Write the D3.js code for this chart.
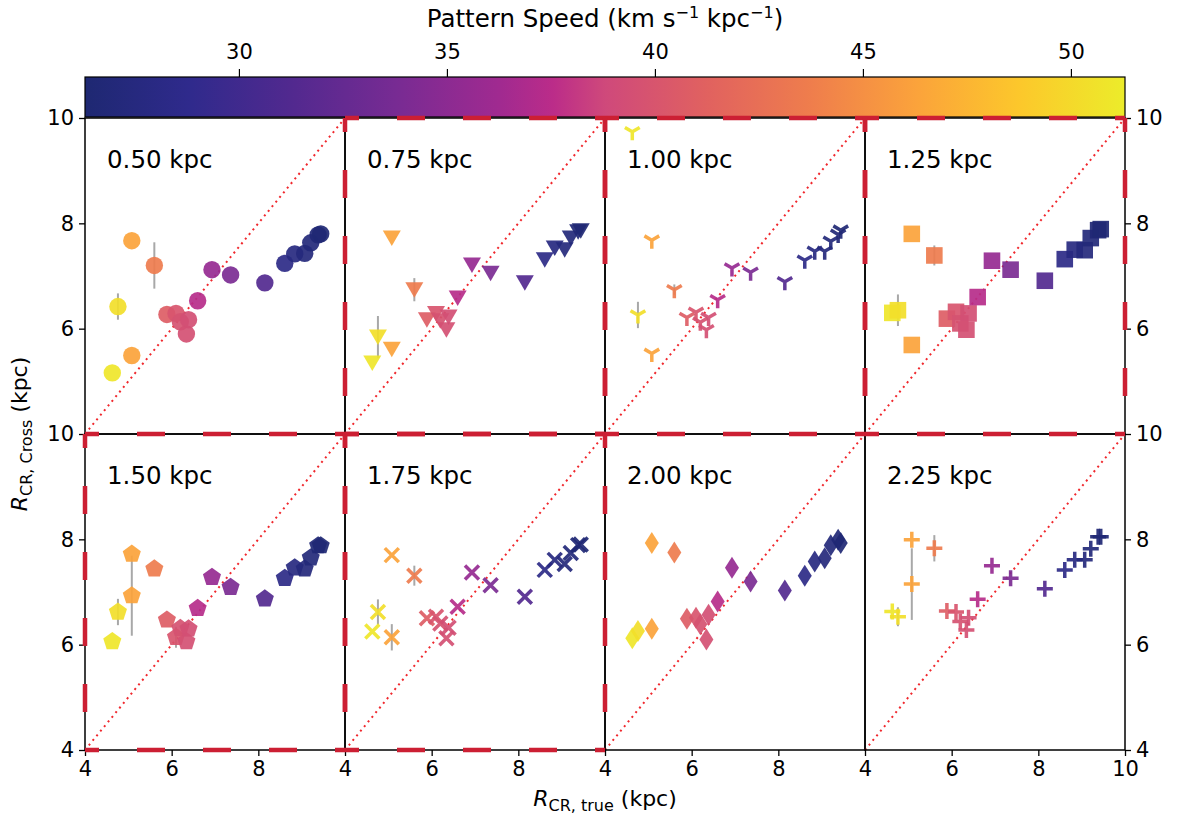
<!DOCTYPE html>
<html>
<head>
<meta charset="utf-8">
<script src="https://cdn.jsdelivr.net/npm/d3@7"></script>
<style>
    body { margin: 0; background: #fff; }
    svg { font-family: "DejaVu Sans", sans-serif; }
</style>
</head>
<body>
<div id="chart"></div>
<script>
// Crossing-radius comparison, one panel per smoothing scale

const panelLabels = ['0.50 kpc', '0.75 kpc', '1.00 kpc', '1.25 kpc', '1.50 kpc', '1.75 kpc', '2.00 kpc', '2.25 kpc'];
const markerTypes = ['circle', 'triDown', 'tri', 'square', 'pentagon', 'x', 'thinDiamond', 'plus'];
const highlighted = [false, true, true, true, true, true, false, false];

// true corotation radius (kpc) and pattern speed (km/s/kpc) of each model
const rTrue = [4.63, 4.76, 5.08, 5.08, 5.60, 5.89, 6.10, 6.20, 6.34, 6.39, 6.60, 6.93, 7.36, 8.15, 8.61, 8.84, 9.07, 9.21, 9.38, 9.44];
const patternSpeed = [50.9, 50.3, 46.3, 46.3, 43.6, 40.8, 40.0, 39.7, 39.5, 39.4, 37.3, 35.6, 34.0, 31.3, 28.3, 27.6, 27.3, 27.0, 26.7, 26.5];

// recovered radius per panel
const rCross050 = [5.16, 6.42, 5.49, 7.67, 7.20, 6.27, 6.29, 6.13, 5.90, 6.17, 6.53, 7.12, 7.02, 6.87, 7.24, 7.42, 7.43, 7.63, 7.78, 7.80];
const rCross075 = [5.35, 5.84, 5.61, 7.72, 6.74, 6.17, 6.29, 6.15, 5.98, 6.22, 6.58, 7.21, 7.05, 6.87, 7.31, 7.53, 7.50, 7.72, 7.84, 7.86];
const rCross100 = [9.74, 6.26, 5.53, 7.68, 6.74, 6.21, 6.31, 6.12, 5.98, 6.21, 6.55, 7.15, 7.07, 6.89, 7.30, 7.47, 7.47, 7.66, 7.79, 7.87];
const rCross125 = [6.30, 6.35, 5.69, 7.80, 7.39, 6.19, 6.32, 6.10, 5.98, 6.29, 6.60, 7.29, 7.12, 6.91, 7.32, 7.50, 7.49, 7.72, 7.87, 7.89];
const rCross150 = [6.06, 6.62, 6.93, 7.72, 7.44, 6.47, 6.14, 6.31, 6.06, 6.30, 6.69, 7.28, 7.09, 6.87, 7.26, 7.46, 7.44, 7.65, 7.88, 7.88];
const rCross175 = [6.25, 6.62, 6.14, 7.70, 7.31, 6.50, 6.53, 6.40, 6.12, 6.32, 6.72, 7.37, 7.13, 6.91, 7.42, 7.61, 7.53, 7.74, 7.89, 7.90];
const rCross200 = [6.12, 6.26, 6.30, 7.93, 7.75, 6.49, 6.51, 6.39, 6.10, 6.57, 6.82, 7.46, 7.20, 7.03, 7.31, 7.58, 7.64, 7.89, 7.99, 7.93];
const rCross225 = [6.63, 6.53, 7.15, 7.99, 7.83, 6.64, 6.62, 6.44, 6.28, 6.51, 6.86, 7.50, 7.26, 7.06, 7.42, 7.61, 7.61, 7.82, 8.05, 8.05];
const rCrossPanels = [rCross050, rCross075, rCross100, rCross125, rCross150, rCross175, rCross200, rCross225];

// [model index, half-length] of the visible error bars
const errBars = [
    [[1, 0.25], [4, 0.44]],
    [[1, 0.40], [4, 0.22]],
    [[1, 0.25], [4, 0.10]],
    [[1, 0.30], [4, 0.19]],
    [[1, 0.25], [2, 0.76], [6, 0.20]],
    [[1, 0.24], [2, 0.25], [4, 0.19]],
    [],
    [[1, 0.18], [2, 0.68], [4, 0.25]]
];

const axisTicks = [4, 6, 8, 10];
const cbDomain = [26.3, 51.3];
const cbTicks = [30, 35, 40, 45, 50];
// plasma-like colormap as it appears in the figure
const cmapStops = [0, 0.1, 0.2, 0.3, 0.4, 0.45, 0.5, 0.6, 0.7, 0.8, 0.9, 1];
const cmapColors = ['#1e2872', '#2f2a8c', '#52298f', '#782b93', '#a12a90', '#bb2c89', '#cf497b',
    '#e1625f', '#ef7e4c', '#fba33b', '#fcc82b', '#ecec2a'];

const W = 1183, H = 821;
const plotLeft = 85, plotTop = 118, pw = 260, ph = 316;

const svg = d3.select('#chart').append('svg')
    .attr('width', W).attr('height', H);

const cmap = d3.scaleLinear().domain(cmapStops).range(cmapColors).interpolate(d3.interpolateRgb);
const color = d3.scaleLinear().domain(cbDomain).range([0, 1]).clamp(true);
const colorOf = s => cmap(color(s));

// ---- colorbar
const cbScale = d3.scaleLinear().domain(cbDomain).range([plotLeft, plotLeft + 4 * pw]);
const grad = svg.append('defs').append('linearGradient').attr('id', 'cmap');
cmapStops.forEach((t, i) => {
    grad.append('stop').attr('offset', t).attr('stop-color', cmapColors[i]);
});
svg.append('rect')
    .attr('x', plotLeft).attr('y', 77).attr('width', 4 * pw).attr('height', 40)
    .attr('fill', 'url(#cmap)').attr('stroke', '#000').attr('stroke-width', 1.2);
const cbAxis = svg.append('g').attr('transform', 'translate(0,77)')
    .call(d3.axisTop(cbScale).tickValues(cbTicks).tickSize(8).tickPadding(10));
cbAxis.select('.domain').remove();
cbAxis.selectAll('text').attr('font-size', 21).attr('font-family', 'DejaVu Sans').attr('fill', '#000');
cbAxis.selectAll('line').attr('stroke-width', 1.2);

const title = svg.append('text').attr('x', plotLeft + 2 * pw).attr('y', 27)
    .attr('text-anchor', 'middle').attr('font-size', 24.5);
title.append('tspan').text('Pattern Speed (km s');
title.append('tspan').attr('dy', -9).attr('font-size', 16).text('\u22121');
title.append('tspan').attr('dy', 9).text(' kpc');
title.append('tspan').attr('dy', -9).attr('font-size', 16).text('\u22121');
title.append('tspan').attr('dy', 9).text(')');

// ---- marker shapes
function markerPath(type) {
    const p = d3.path();
    if (type === 'circle') {
        p.arc(0, 0, 8.7, 0, 2 * Math.PI);
    } else if (type === 'triDown') {
        p.moveTo(0, 8); p.lineTo(-9, -7.5); p.lineTo(9, -7.5); p.closePath();
    } else if (type === 'tri') {
        p.moveTo(0, 0); p.lineTo(0, 8.5);
        p.moveTo(0, 0); p.lineTo(-7.4, -4.3);
        p.moveTo(0, 0); p.lineTo(7.4, -4.3);
    } else if (type === 'square') {
        p.rect(-8.3, -8.3, 16.6, 16.6);
    } else if (type === 'pentagon') {
        d3.range(5).forEach(i => {
            const a = -Math.PI / 2 + i * 2 * Math.PI / 5;
            const px = 9.5 * Math.cos(a), py = 9.5 * Math.sin(a);
            if (i === 0) p.moveTo(px, py); else p.lineTo(px, py);
        });
        p.closePath();
    } else if (type === 'x') {
        p.moveTo(-7, -7); p.lineTo(7, 7);
        p.moveTo(-7, 7); p.lineTo(7, -7);
    } else if (type === 'thinDiamond') {
        p.moveTo(0, -11); p.lineTo(7, 0); p.lineTo(0, 11); p.lineTo(-7, 0); p.closePath();
    } else if (type === 'plus') {
        p.moveTo(-8, 0); p.lineTo(8, 0);
        p.moveTo(0, -8); p.lineTo(0, 8);
    }
    return p.toString();
}
const strokedMarkers = ['tri', 'x', 'plus'];

// ---- panels
const highlightLayer = [];
panelLabels.forEach((label, k) => {
    const col = k % 4, row = Math.floor(k / 4);
    const x0 = plotLeft + col * pw, y0 = plotTop + row * ph;
    const x = d3.scaleLinear().domain([4, 10]).range([x0, x0 + pw]);
    const y = d3.scaleLinear().domain([4, 10]).range([y0 + ph, y0]);
    const g = svg.append('g');

    // one-to-one line
    g.append('line')
        .attr('x1', x(4)).attr('y1', y(4)).attr('x2', x(10)).attr('y2', y(10))
        .attr('stroke', '#f0282d').attr('stroke-width', 2)
        .attr('stroke-dasharray', '2,4');

    const rc = rCrossPanels[k];

    g.selectAll('line.err')
        .data(errBars[k])
        .join('line')
        .attr('class', 'err')
        .attr('x1', d => x(rTrue[d[0]])).attr('x2', d => x(rTrue[d[0]]))
        .attr('y1', d => y(rc[d[0]] - d[1])).attr('y2', d => y(rc[d[0]] + d[1]))
        .attr('stroke', '#a8a8a8').attr('stroke-width', 2);

    const type = markerTypes[k];
    const stroked = strokedMarkers.includes(type);
    const pts = rTrue.map((r, i) => ({ r, v: rc[i], s: patternSpeed[i] }));
    g.selectAll('path.pt')
        .data(pts)
        .join('path')
        .attr('class', 'pt')
        .attr('d', markerPath(type))
        .attr('transform', d => `translate(${x(d.r)},${y(d.v)})`)
        .attr('fill', d => stroked ? 'none' : colorOf(d.s))
        .attr('stroke', d => stroked ? colorOf(d.s) : 'none')
        .attr('stroke-width', stroked ? 3.5 : 0)
        .attr('opacity', 0.92);

    // frame
    g.append('rect')
        .attr('x', x0).attr('y', y0).attr('width', pw).attr('height', ph)
        .attr('fill', 'none').attr('stroke', '#000').attr('stroke-width', 1.5);

    g.append('text')
        .attr('x', x0 + 22).attr('y', y0 + 50)
        .attr('font-size', 24.5).text(label);

    // axes on outer edges
    if (row === 1) {
        const ax = g.append('g').attr('transform', `translate(0,${y0 + ph})`)
            .call(d3.axisBottom(x).tickValues(col === 3 ? axisTicks : axisTicks.slice(0, 3))
                .tickSize(6).tickPadding(5).tickFormat(d3.format('d')));
        styleAxis(ax);
    }
    if (col === 0) {
        const ay = g.append('g').attr('transform', `translate(${x0},0)`)
            .call(d3.axisLeft(y).tickValues(row === 1 ? axisTicks : axisTicks.slice(1))
                .tickSize(6).tickPadding(5).tickFormat(d3.format('d')));
        styleAxis(ay);
    }
    if (col === 3) {
        const ay = g.append('g').attr('transform', `translate(${x0 + pw},0)`)
            .call(d3.axisRight(y).tickValues(row === 1 ? axisTicks : axisTicks.slice(1))
                .tickSize(6).tickPadding(5).tickFormat(d3.format('d')));
        styleAxis(ay);
    }

    if (highlighted[k]) highlightLayer.push([x0, y0]);
});

function styleAxis(a) {
    a.select('.domain').remove();
    a.selectAll('text').attr('font-size', 21).attr('font-family', 'DejaVu Sans').attr('fill', '#000');
    a.selectAll('line').attr('stroke-width', 1.3);
}

// red dashed boxes around the highlighted panels
const hl = svg.append('g');
highlightLayer.forEach(([x0, y0]) => {
    const edges = [
        [x0, y0, x0 + pw, y0], [x0, y0 + ph, x0 + pw, y0 + ph],
        [x0, y0, x0, y0 + ph], [x0 + pw, y0, x0 + pw, y0 + ph]
    ];
    edges.forEach(e => {
        hl.append('line')
            .attr('x1', e[0]).attr('y1', e[1]).attr('x2', e[2]).attr('y2', e[3])
            .attr('stroke', '#cc1f33').attr('stroke-width', 4.5)
            .attr('stroke-dasharray', '28,38').attr('stroke-dashoffset', 14);
    });
});

// axis labels
const xl = svg.append('text').attr('x', plotLeft + 2 * pw).attr('y', 806)
    .attr('text-anchor', 'middle').attr('font-size', 22);
xl.append('tspan').attr('font-style', 'italic').text('R');
xl.append('tspan').attr('font-size', 16).attr('dy', 5).text('CR, true');
xl.append('tspan').attr('dy', -5).text(' (kpc)');

const yl = svg.append('text')
    .attr('transform', `translate(27,${plotTop + ph}) rotate(-90)`)
    .attr('text-anchor', 'middle').attr('font-size', 22);
yl.append('tspan').attr('font-style', 'italic').text('R');
yl.append('tspan').attr('font-size', 16).attr('dy', 5).text('CR, Cross');
yl.append('tspan').attr('dy', -5).text(' (kpc)');
</script>
</body>
</html>
